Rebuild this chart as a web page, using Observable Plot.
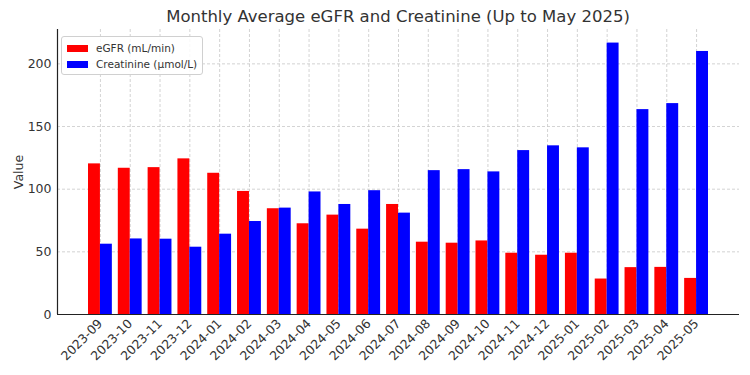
<!DOCTYPE html>
<html>
<head>
<meta charset="utf-8">
<script src="https://cdn.jsdelivr.net/npm/d3@7"></script>
<script src="https://cdn.jsdelivr.net/npm/@observablehq/plot@0.6"></script>
<style>
  html, body { margin: 0; padding: 0; background: #fff; }
  #chart { position: relative; width: 750px; height: 375px; font-family: "DejaVu Sans", sans-serif; }
  #title { position: absolute; top: 7px; left: 57px; width: 682px; text-align: center; font-size: 16.5px; color: #333; white-space: nowrap; }
  #legend { position: absolute; left: 61px; top: 36px; padding: 3px 5px 2px 5px; border: 1px solid #d0d0d0; border-radius: 3px; background: rgba(255,255,255,0.85); font-size: 10.5px; color: #333; }
  #legend .row { display: flex; align-items: center; height: 16px; }
  #legend .sw { width: 21px; height: 7px; margin-right: 8px; }
  svg { display: block; }
</style>
</head>
<body>
<div id="chart">
  <div id="title">Monthly Average eGFR and Creatinine (Up to May 2025)</div>
</div>
<script>
// Monthly averages, September 2023 through May 2025
const months = [
  "2023-09", "2023-10", "2023-11", "2023-12",
  "2024-01", "2024-02", "2024-03", "2024-04", "2024-05", "2024-06",
  "2024-07", "2024-08", "2024-09", "2024-10", "2024-11", "2024-12",
  "2025-01", "2025-02", "2025-03", "2025-04", "2025-05"
];
const egfr = [
  120.2, 116.7, 117.2, 124.2,
  112.7, 98.2, 84.4, 72.4, 79.3, 68.1,
  87.8, 57.7, 56.9, 58.7, 48.9, 47.3,
  48.9, 28.3, 37.4, 37.6, 28.8
];
const creatinine = [
  56.1, 60.3, 60.1, 53.7,
  64.1, 74.2, 84.9, 97.8, 87.8, 98.8,
  80.9, 114.8, 115.6, 113.8, 130.8, 134.6,
  133.0, 216.6, 163.5, 168.3, 209.9
];
const yTicks = [0, 50, 100, 150, 200];
const seriesNames = ["eGFR (mL/min)", "Creatinine (μmol/L)"];
const seriesColors = ["#ff0000", "#0000ff"];

const rows = months.map((m, i) => ({i, month: m, egfr: egfr[i], creatinine: creatinine[i]}));
const idx = rows.map(d => d.i);
const barW = 0.4;            // each bar takes 40% of a month slot
const pad = 1.04;            // outer margin around the bars, in slot units
const yMax = d3.max(creatinine) * 1.05;

const chart = Plot.plot({
  width: 750,
  height: 375,
  marginTop: 29,
  marginBottom: 61,
  marginLeft: 57,
  marginRight: 11,
  style: {fontFamily: "DejaVu Sans, sans-serif", fontSize: "12px", color: "#333", background: "#fff"},
  x: {domain: [-barW - pad, idx.length - 1 + barW + pad]},
  y: {domain: [0, yMax]},
  marks: [
    Plot.gridY(yTicks.slice(1), {stroke: "#c8c8c8", strokeOpacity: 1, strokeDasharray: "3,2", strokeWidth: 0.8}),
    Plot.gridX(idx, {stroke: "#c8c8c8", strokeOpacity: 1, strokeDasharray: "3,2", strokeWidth: 0.8}),
    Plot.rectY(rows, {x1: d => d.i - barW, x2: d => d.i, y: "egfr", fill: seriesColors[0]}),
    Plot.rectY(rows, {x1: d => d.i, x2: d => d.i + barW, y: "creatinine", fill: seriesColors[1]}),
    Plot.ruleY([0], {stroke: "#222", strokeWidth: 1.2}),
    Plot.ruleX([-barW - pad], {stroke: "#222", strokeWidth: 1.2}),
    Plot.axisY({
      ticks: yTicks, tickSize: 0, tickPadding: 6, fontSize: 12.5,
      label: "Value", labelAnchor: "center", labelArrow: false, labelOffset: 43
    }),
    Plot.axisX({
      ticks: idx, tickFormat: i => months[i], tickSize: 0, tickPadding: 7, tickRotate: -45,
      fontSize: 12.5, label: null
    })
  ]
});
document.getElementById("chart").appendChild(chart);

// Legend box in the upper-left corner of the plot area
const legend = document.createElement("div");
legend.id = "legend";
seriesNames.forEach((name, k) => {
  const row = document.createElement("div");
  row.className = "row";
  const sw = document.createElement("span");
  sw.className = "sw";
  sw.style.background = seriesColors[k];
  const lab = document.createElement("span");
  lab.textContent = name;
  row.appendChild(sw);
  row.appendChild(lab);
  legend.appendChild(row);
});
document.getElementById("chart").appendChild(legend);
</script>
</body>
</html>
